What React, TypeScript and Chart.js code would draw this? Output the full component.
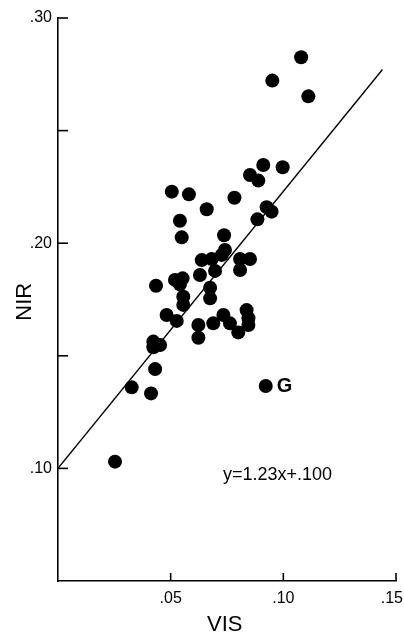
import React, { useEffect, useRef } from "react";
import { Chart, registerables } from "chart.js";

Chart.register(...registerables);

// VIS (x) and NIR (y) reflectances
const visValues = [
  0.0253, 0.0327, 0.0413, 0.0431, 0.0423, 0.0423, 0.0453, 0.0435, 0.0482, 0.0527,
  0.0519, 0.0553, 0.0541, 0.0556, 0.0556, 0.0505, 0.0581, 0.0541, 0.0549, 0.0623,
  0.0623, 0.0630, 0.0638, 0.0660, 0.0682, 0.0675, 0.0675, 0.0689, 0.0697, 0.0727,
  0.0741, 0.0737, 0.0734, 0.0763, 0.0783, 0.0800, 0.0808, 0.0808, 0.0852, 0.0837,
  0.0845, 0.0845, 0.0852, 0.0889, 0.0911, 0.0997, 0.0885, 0.0926, 0.0948, 0.0951,
  0.1079, 0.1111, 0.0922,
];
const nirValues = [
  0.1030, 0.1360, 0.1333, 0.1441, 0.1538, 0.1563, 0.1548, 0.1811, 0.1681, 0.1655,
  0.1837, 0.1844, 0.1817, 0.1762, 0.1726, 0.2229, 0.2217, 0.2100, 0.2026, 0.1637,
  0.1580, 0.1859, 0.1925, 0.2151, 0.1930, 0.1802, 0.1755, 0.1644, 0.1877, 0.1948,
  0.1970, 0.2035, 0.1681, 0.1644, 0.2202, 0.1604, 0.1930, 0.1881, 0.1930, 0.1703,
  0.1667, 0.1637, 0.2303, 0.2278, 0.2347, 0.2337, 0.2106, 0.2160, 0.2140, 0.2722,
  0.2826, 0.2652, 0.1366,
];
const pointLabels = [
  "", "", "", "", "", "", "", "", "", "", "", "", "", "", "", "", "", "", "", "",
  "", "", "", "", "", "", "", "", "", "", "", "", "", "", "", "", "", "", "", "",
  "", "", "", "", "", "", "", "", "", "", "", "", "G",
];

// regression line y = 1.23x + .100
const fitSlope = 1.23;
const fitIntercept = 0.1;
const fitXRange = [0, 0.144];

const xTicks = [0, 0.05, 0.1, 0.15];
const xTickLabels = ["", ".05", ".10", ".15"];
const yTicks = [0.05, 0.1, 0.15, 0.2, 0.25, 0.3];
const yTickLabels = ["", ".10", "", ".20", "", ".30"];

const equationText = "y=1.23x+.100";
const xTitle = "VIS";
const yTitle = "NIR";

const FONT = "'Liberation Sans', 'DejaVu Sans', sans-serif";
const NARROW = "'Liberation Sans Narrow', 'Liberation Sans', sans-serif";

const decorPlugin = {
  id: "decor",
  afterDraw(chart: any) {
    const ctx = chart.ctx;
    const xs = chart.scales.x;
    const ys = chart.scales.y;
    const area = chart.chartArea;
    ctx.save();
    ctx.strokeStyle = "#000";
    ctx.fillStyle = "#000";
    ctx.lineWidth = 1.6;
    // inward ticks
    yTicks.forEach((v, i) => {
      if (i === 0) return;
      const py = ys.getPixelForValue(v);
      ctx.beginPath();
      ctx.moveTo(area.left, py);
      ctx.lineTo(area.left + 10, py);
      ctx.stroke();
    });
    xTicks.forEach((v, i) => {
      if (i === 0) return;
      const px = xs.getPixelForValue(v);
      ctx.beginPath();
      ctx.moveTo(px, area.bottom);
      ctx.lineTo(px, area.bottom - 8);
      ctx.stroke();
    });
    // tick labels
    ctx.font = `16px ${FONT}`;
    ctx.textAlign = "right";
    ctx.textBaseline = "middle";
    yTicks.forEach((v, i) => {
      const t = yTickLabels[i];
      if (!t) return;
      ctx.fillText(t, area.left - 6, ys.getPixelForValue(v));
    });
    ctx.textAlign = "center";
    xTicks.forEach((v, i) => {
      const t = xTickLabels[i];
      if (!t) return;
      const w = ctx.measureText(t).width;
      const px = Math.min(xs.getPixelForValue(v), chart.width - w / 2 - 1);
      ctx.fillText(t, px, area.bottom + 18);
    });
    // axis titles
    ctx.font = `22px ${NARROW}`;
    ctx.fillText(xTitle, xs.getPixelForValue(0.074), area.bottom + 44);
    ctx.save();
    ctx.translate(25, ys.getPixelForValue(0.174));
    ctx.rotate(-Math.PI / 2);
    ctx.fillText(yTitle, 0, 0);
    ctx.restore();
    // equation
    ctx.font = `18px ${FONT}`;
    ctx.textAlign = "left";
    ctx.fillText(equationText, xs.getPixelForValue(0.0732), ys.getPixelForValue(0.097));
    // point labels
    const meta = chart.getDatasetMeta(0);
    ctx.font = `bold 20px ${FONT}`;
    pointLabels.forEach((lab, i) => {
      if (!lab) return;
      const el = meta.data[i];
      ctx.fillText(lab, el.x + 11, el.y + 1);
    });
    ctx.restore();
  },
};

export default function App() {
  const ref = useRef<HTMLCanvasElement | null>(null);
  useEffect(() => {
    if (!ref.current) return;
    const points = visValues.map((x, i) => ({ x, y: nirValues[i] }));
    const line = fitXRange.map((x) => ({ x, y: fitSlope * x + fitIntercept }));
    const chart = new Chart(ref.current, {
      type: "scatter",
      data: {
        datasets: [
          {
            data: points,
            backgroundColor: "#000",
            borderWidth: 0,
            pointRadius: 7,
          },
          {
            type: "line",
            data: line,
            borderColor: "#000",
            borderWidth: 1.4,
            pointRadius: 0,
            fill: false,
          } as any,
        ],
      },
      options: {
        animation: false,
        responsive: false,
        layout: { padding: { top: 18, right: 8, left: 0, bottom: 0 } },
        plugins: { legend: { display: false }, tooltip: { enabled: false } },
        scales: {
          x: {
            type: "linear",
            min: 0,
            max: 0.15,
            ticks: { display: false, stepSize: 0.05 },
            grid: { display: false },
            border: { display: true, color: "#000", width: 1.6 },
            afterFit: (s: any) => {
              s.height = 54;
            },
          },
          y: {
            type: "linear",
            min: 0.05,
            max: 0.3,
            ticks: { display: false, stepSize: 0.05 },
            grid: { display: false },
            border: { display: true, color: "#000", width: 1.6 },
            afterFit: (s: any) => {
              s.width = 58;
            },
          },
        },
      },
      plugins: [decorPlugin],
    });
    return () => chart.destroy();
  }, []);
  return (
    <div style={{ position: "absolute", left: 0, top: 0, width: 404, height: 635, background: "#fff" }}>
      <canvas ref={ref} width={404} height={635} />
    </div>
  );
}
